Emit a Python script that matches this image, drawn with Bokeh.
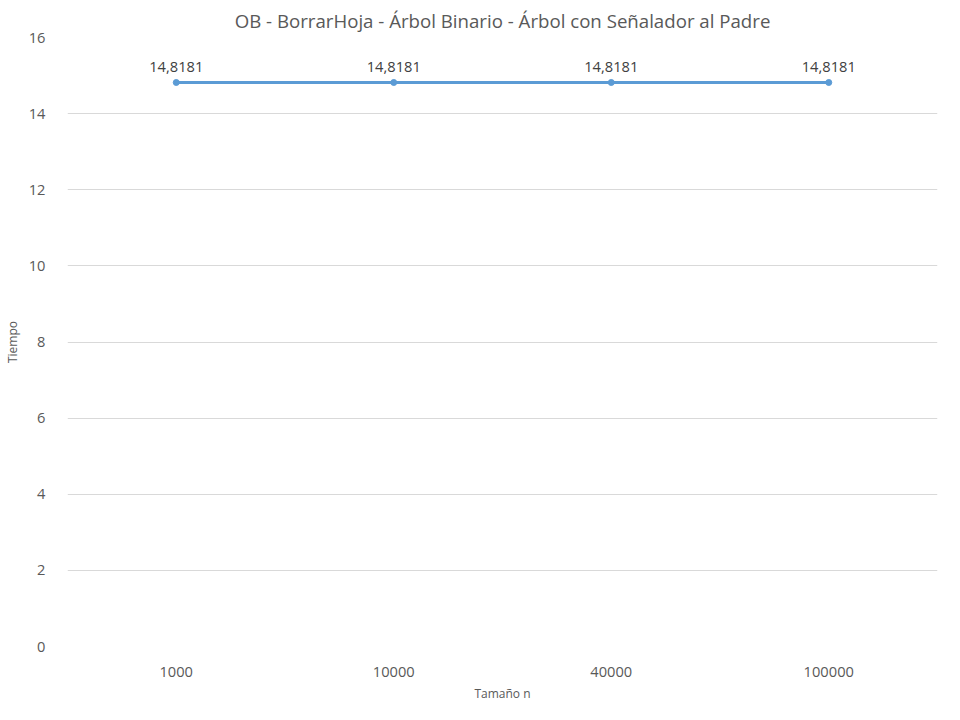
from bokeh.core.properties import value
from bokeh.embed import file_html
from bokeh.models import ColumnDataSource, FactorRange, Legend, LegendItem, Range1d
from bokeh.plotting import figure
from bokeh.resources import INLINE

sizes = ["1000", "10000", "40000", "100000"]
tiempos = [14.8181, 14.8181, 14.8181, 14.8181]
etiquetas = ["14,8181", "14,8181", "14,8181", "14,8181"]
serie = "OB - BorrarHoja - Árbol Binario - Árbol con Señalador al Padre"

FONT = "Open Sans"
GRAY = "#595959"
BLUE = "#5B9BD5"

src = ColumnDataSource(dict(x=sizes, y=tiempos, lab=etiquetas))

p = figure(
    width=944, height=704,
    x_range=FactorRange(*sizes, range_padding=0), y_range=Range1d(0, 16),
    output_backend="svg", toolbar_location=None,
    title=serie,
    min_border_left=20, min_border_right=7, min_border_top=14,
    min_border_bottom=50,
)
p.x_range.factor_padding = 0
p.title.align = "center"
p.title.text_font = FONT
p.title.text_font_size = "14pt"
p.title.text_font_style = "normal"
p.title.text_color = GRAY
p.outline_line_color = None

line = p.line("x", "y", source=src, color=BLUE, line_width=3)
dots = p.scatter("x", "y", source=src, color=BLUE, size=6)
p.text("x", "y", text="lab", source=src, y_offset=-10, text_align="center",
       text_baseline="bottom", text_font=value(FONT), text_font_size="11pt",
       text_color="#404040")

p.xgrid.grid_line_color = None
p.ygrid.grid_line_color = "#d9d9d9"
p.yaxis.ticker = [0, 2, 4, 6, 8, 10, 12, 14, 16]
for ax in (p.xaxis[0], p.yaxis[0]):
    ax.axis_line_color = None
    ax.major_tick_line_color = None
    ax.minor_tick_line_color = None
    ax.major_label_text_font = FONT
    ax.major_label_text_font_size = "11pt"
    ax.major_label_text_color = GRAY
    ax.axis_label_text_font = FONT
    ax.axis_label_text_font_size = "9pt"
    ax.axis_label_text_font_style = "normal"
    ax.axis_label_text_color = GRAY
p.xaxis.axis_label = "Tamaño n"
p.yaxis.axis_label = "Tiempo"
p.xaxis.major_label_standoff = 14
p.yaxis.major_label_standoff = 16

legend = Legend(items=[LegendItem(label=serie, renderers=[line, dots])],
                orientation="horizontal", location=(150, -110),
                label_text_font=FONT, label_text_font_size="10.5pt",
                label_text_color=GRAY, border_line_color=None,
                background_fill_alpha=0, glyph_width=30)
p.add_layout(legend, "center")

open("out.html", "w").write(file_html(p, INLINE))
